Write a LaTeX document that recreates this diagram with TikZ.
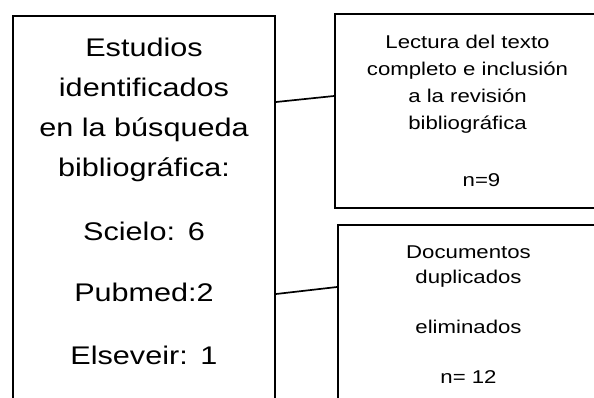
\documentclass[tikz,border=0pt]{standalone}
\usepackage{fontspec}
\setmainfont{Liberation Sans}[FakeStretch=1.2]
\usetikzlibrary{positioning,calc}

\tikzset{
  caja/.style={draw, line width=2pt, rectangle, inner sep=0pt, anchor=north west},
  txtgrande/.style={align=center, text width=250pt, inner sep=0pt, anchor=base,
    font=\fontsize{25.5}{40}\selectfont},
  txtchico/.style={align=center, text width=250pt, inner sep=0pt, anchor=base,
    font=\fontsize{18.5}{#1}\selectfont},
  enlace/.style={line width=1.7pt}
}

\begin{document}
\begin{tikzpicture}[x=1pt, y=-1pt]
    \useasboundingbox (0,0) rectangle (594,397);
    \clip (0,0) rectangle (594,397);
    \node[caja, minimum width=262, minimum height=420] (busq) at (12,15) {}; % Busqueda
    \node[caja, minimum width=265, minimum height=194] (lectura) at (334,13) {}; % Lectura
    \node[caja, minimum width=261, minimum height=206] (dupl) at (337,224) {}; % Duplicados
    \node[txtgrande] (busqtxt) at ([yshift=-41pt]busq.north)
        {Estudios\\identificados\\en la búsqueda\\bibliográfica:\\[24pt]Scielo: 6\\[21pt]Pubmed:2\\[23pt]Elseveir: 1};
    \node[txtchico=27] (lecturatxt) at ([yshift=-35pt]lectura.north)
        {Lectura del texto\\completo e inclusión\\a la revisión\\bibliográfica\\[30pt]\hspace*{28pt}n=9};
    \node[txtchico=25] (dupltxt) at ([yshift=-34.5pt]dupl.north)
        {Documentos\\duplicados\\[25pt]eliminados\\[25pt]n= 12};
    \draw[enlace] ([yshift=-87pt]busq.north east) -- ([yshift=-83pt]lectura.north west); % Enlaces
    \draw[enlace] ([yshift=-279pt]busq.north east) -- ([yshift=-63pt]dupl.north west);
\end{tikzpicture}
\end{document}
